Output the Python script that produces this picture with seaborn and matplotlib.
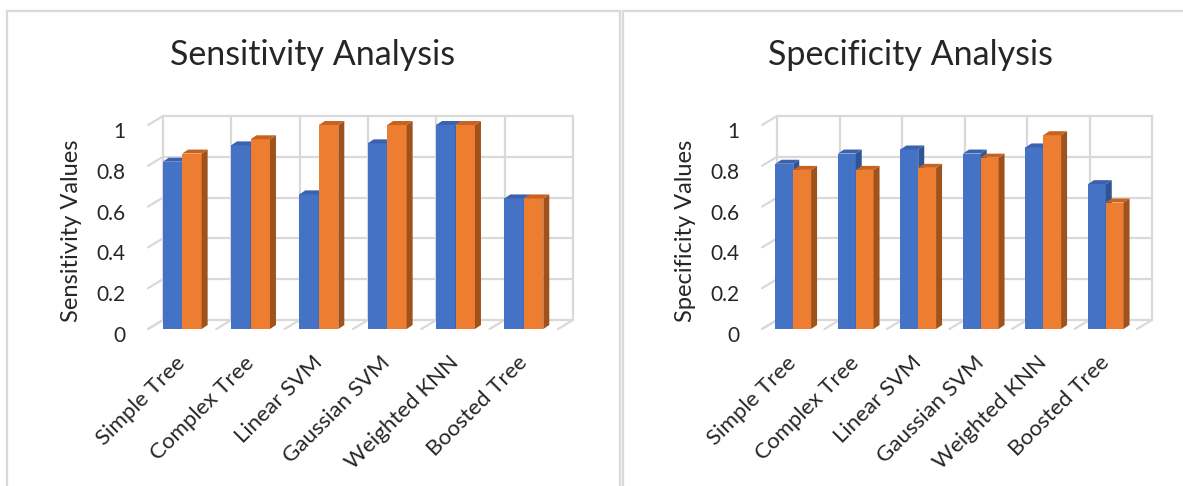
import numpy as np
import pandas as pd
import matplotlib
matplotlib.use("Agg")
import matplotlib.pyplot as plt
import matplotlib.transforms as mtransforms
from matplotlib.patches import Polygon, Rectangle
import seaborn as sns

# Data
models = ['Simple Tree', 'Complex Tree', 'Linear SVM', 'Gaussian SVM', 'Weighted KNN', 'Boosted Tree']
sens_series1 = [0.82, 0.90, 0.66, 0.91, 1.00, 0.64]
sens_series2 = [0.86, 0.93, 1.00, 1.00, 1.00, 0.64]
spec_series1 = [0.81, 0.86, 0.88, 0.86, 0.89, 0.71]
spec_series2 = [0.78, 0.78, 0.79, 0.84, 0.95, 0.62]
series_names = ['Series 1', 'Series 2']
yticks = [0, 0.2, 0.4, 0.6, 0.8, 1.0]
ytick_labels = ['0', '0.2', '0.4', '0.6', '0.8', '1']

BLUE, ORANGE = '#4472C4', '#ED7D31'
BLUE_SIDE, ORANGE_SIDE = '#2F5597', '#A0521C'
BLUE_TOP, ORANGE_TOP = '#3A62AE', '#C8621F'
GRID = '#D9D9D9'

sns.set_theme(style="white")
plt.rcParams['font.family'] = ['Lato', 'DejaVu Sans']

W, H = 1183, 486
fig = plt.figure(figsize=(W / 100, H / 100), dpi=100)


def px_box(left, bottom_px, width, height):
    # pixel box (top-origin bottom) -> figure fraction
    return [left / W, (H - bottom_px) / H, width / W, height / H]


def draw_panel(ax, s1, s2, title, ylabel, title_x, ylabel_x, spacing_px):
    df = pd.DataFrame({
        'model': models * 2,
        'value': s1 + s2,
        'series': [series_names[0]] * len(models) + [series_names[1]] * len(models),
    })
    sns.barplot(data=df, x='model', y='value', hue='series', order=models,
                palette=[BLUE, ORANGE], width=0.57, saturation=1,
                legend=False, linewidth=0, edgecolor='none', ax=ax)
    ax.set_xlim(-0.5, len(models) - 0.5)
    ax.set_ylim(0, 1.1)

    unit_px = 204.0
    # depth of each bar (side/top faces)
    ddx, ddy = 6 / spacing_px, 4 / unit_px
    # offset of the back wall relative to the front plane
    bdx, bdy = 15 / spacing_px, 9 / unit_px

    n = len(models)
    bars = list(ax.patches)
    for i, p in enumerate(bars):
        is_blue = i < n
        x0, w, h = p.get_x(), p.get_width(), p.get_height()
        p.set_zorder(2 if is_blue else 3)
        p.set_linewidth(0)
        side = Polygon([(x0 + w, 0), (x0 + w + ddx, ddy), (x0 + w + ddx, h + ddy), (x0 + w, h)],
                       closed=True, facecolor=BLUE_SIDE if is_blue else ORANGE_SIDE,
                       edgecolor='none', zorder=2.1 if is_blue else 3.1, clip_on=False)
        top = Polygon([(x0, h), (x0 + w, h), (x0 + w + ddx, h + ddy), (x0 + ddx, h + ddy)],
                      closed=True, facecolor=BLUE_TOP if is_blue else ORANGE_TOP,
                      edgecolor='none', zorder=2.1 if is_blue else 3.1, clip_on=False)
        ax.add_patch(side)
        ax.add_patch(top)

    # back wall grid
    lo, hi = -0.5, n - 0.5
    for y in yticks:
        ax.plot([lo + bdx, hi + bdx], [y + bdy, y + bdy], color=GRID, lw=1.6, zorder=0, clip_on=False)
        ax.plot([lo, lo + bdx], [y, y + bdy], color=GRID, lw=1.6, zorder=0, clip_on=False)
    for k in range(n + 1):
        xb = lo + k
        ax.plot([xb + bdx, xb + bdx], [bdy, 1 + bdy], color=GRID, lw=1.6, zorder=0, clip_on=False)
        ax.plot([xb, xb + bdx], [0, bdy], color=GRID, lw=1.6, zorder=0, clip_on=False)

    for s in ax.spines.values():
        s.set_visible(False)
    ax.set_xlabel('')
    ax.set_ylabel('')
    ax.set_yticks(yticks)
    ax.set_yticklabels(ytick_labels, fontsize=15)
    ax.tick_params(axis='y', length=0, pad=16)
    ax.tick_params(axis='x', length=0, pad=22)
    ax.set_xticks(range(n))
    ax.set_xticklabels(models, rotation=45, ha='right', va='center',
                       rotation_mode='anchor', fontsize=16)
    down = mtransforms.ScaledTranslation(0, -5 / 100, fig.dpi_scale_trans)
    for lab in ax.get_yticklabels():
        lab.set_transform(lab.get_transform() + down)

    fig.text(title_x / W, 1 - 55 / H, title, ha='center', va='center', fontsize=24.5)
    fig.text(ylabel_x / W, 1 - 231 / H, ylabel, ha='center', va='center',
             rotation=90, fontsize=17)


ax1 = fig.add_axes(px_box(148, 329, 410, 224.4))
draw_panel(ax1, sens_series1, sens_series2, 'Sensitivity Analysis', 'Sensitivity Values',
           313, 71, 410 / 6)

ax2 = fig.add_axes(px_box(762, 329, 375, 224.4))
draw_panel(ax2, spec_series1, spec_series2, 'Specificity Analysis', 'Specificity Values',
           910, 685, 375 / 6)

# chart area borders
fig.patches.append(Rectangle((7 / W, -0.1), 613 / W, 1.1 - 11 / H, transform=fig.transFigure,
                             fill=False, edgecolor=GRID, lw=1.6))
fig.patches.append(Rectangle((623 / W, -0.1), 600 / W, 1.1 - 11 / H, transform=fig.transFigure,
                             fill=False, edgecolor=GRID, lw=1.6))

fig.savefig('out.png', dpi=100)
